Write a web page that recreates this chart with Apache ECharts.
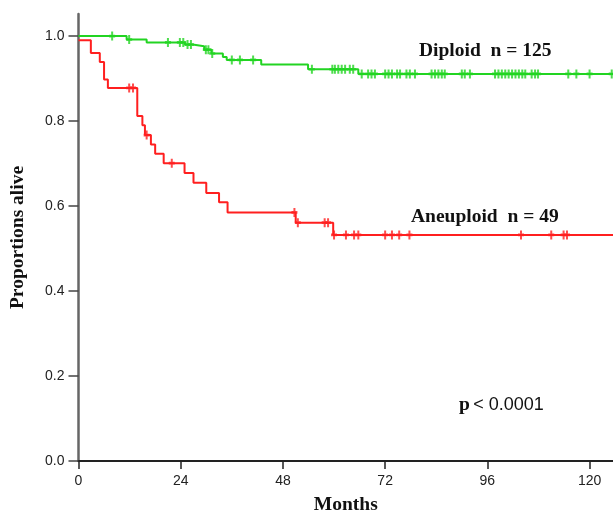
<!DOCTYPE html>
<html>
<head>
<meta charset="utf-8">
<script src="https://cdn.jsdelivr.net/npm/echarts@6/dist/echarts.min.js"></script>
<style>html,body{margin:0;padding:0;background:#fff}#c{width:613px;height:512px}</style>
</head>
<body>
<div id="c"></div>
<script>
// ---- data ----
var xTicks = [0, 24, 48, 72, 96, 120];
var yTicks = [0, 0.2, 0.4, 0.6, 0.8, 1.0];
var followUpEnd = 125.5;

var diploidName = 'Diploid  n = 125';
var diploidTimes = [0, 11.3, 16.0, 25.0, 26.8, 29.5, 31.2, 33.9, 34.8, 42.9, 53.9, 65.7];
var diploidSurv  = [1.0, 0.992, 0.985, 0.980, 0.976, 0.968, 0.959, 0.951, 0.944, 0.933, 0.922, 0.911];
var diploidCensor = [7.9, 11.9, 21.0, 23.8, 24.6, 25.6, 26.4, 29.9, 30.5, 31.4, 36.0, 37.9, 41.0,
  54.8, 59.6, 60.2, 61.0, 61.8, 62.6, 63.7, 64.5,
  66.5, 68.0, 68.8, 69.6, 72.0, 72.8, 73.6, 74.8, 75.5, 77.0, 77.8, 79.0,
  82.9, 83.7, 84.5, 85.3, 86.0, 90.0, 90.7, 91.9,
  97.8, 98.6, 99.4, 100.2, 101.0, 101.8, 102.6, 103.4, 104.2, 104.9, 106.4, 107.2, 107.9,
  115.0, 116.9, 120.0, 125.2];

var aneuName = 'Aneuploid  n = 49';
var aneuTimes = [0, 2.9, 5.0, 6.0, 6.9, 13.8, 15.0, 15.6, 17.0, 18.0, 20.0, 24.9, 27.0, 30.0, 33.0, 35.0, 51.0, 59.8];
var aneuSurv  = [0.99, 0.960, 0.939, 0.898, 0.878, 0.812, 0.790, 0.767, 0.745, 0.723, 0.701, 0.678, 0.655, 0.631, 0.609, 0.585, 0.561, 0.532];
var aneuCensor = [11.9, 12.8, 16.0, 21.9, 50.7, 51.5, 57.8, 58.6, 60.0, 62.8, 64.7, 65.7,
  72.0, 73.6, 75.3, 77.7, 103.9, 111.0, 113.9, 114.7];

var pText = '< 0.0001';

// ---- helpers ----
function stepData(times, surv) {
  var d = times.map(function (t, i) { return [t, surv[i]]; });
  d.push([followUpEnd, surv[surv.length - 1]]);
  return d;
}
function survAt(times, surv, t) {
  var v = surv[0];
  for (var i = 0; i < times.length; i++) { if (times[i] <= t) v = surv[i]; }
  return v;
}
function censorData(cens, times, surv) {
  return cens.map(function (t) { return [t, survAt(times, surv, t)]; });
}

var green = '#22d422';
var red = '#ff1f1f';
var plus = 'path://M2,0h2v10h-2zM0,3.5h6v3h-6z';
var serif = '"Liberation Serif", "Times New Roman", serif';
var sans = '"Liberation Sans", Arial, sans-serif';

var chart = echarts.init(document.getElementById('c'), null, { renderer: 'canvas' });
chart.setOption({
  animation: false,
  backgroundColor: '#fff',
  grid: { left: 78.5, right: 0, top: 14, bottom: 51, containLabel: false, outerBoundsMode: 'none' },
  xAxis: {
    type: 'value', min: 0, max: followUpEnd,
    name: 'Months', nameLocation: 'middle', nameGap: 34,
    nameTextStyle: { fontFamily: serif, fontWeight: 'bold', fontSize: 19.5, color: '#111' },
    axisLine: { show: true, onZero: false, lineStyle: { color: '#222', width: 2 } },
    axisTick: { show: true, length: 8, customValues: xTicks, lineStyle: { color: '#222', width: 1.5 } },
    axisLabel: { customValues: xTicks, fontFamily: sans, fontSize: 14, color: '#222', margin: 13 },
    splitLine: { show: false }
  },
  yAxis: {
    type: 'value', min: 0, max: 1.052,
    name: 'Proportions alive', nameLocation: 'middle', nameGap: 51,
    nameTextStyle: { fontFamily: serif, fontWeight: 'bold', fontSize: 19.5, color: '#111' },
    axisLine: { show: true, lineStyle: { color: '#666', width: 2.5 } },
    axisTick: { show: true, length: 10, customValues: yTicks, lineStyle: { color: '#444', width: 1.5 } },
    axisLabel: { customValues: yTicks, fontFamily: sans, fontSize: 14, color: '#222', margin: 14,
      formatter: function (v) { return v.toFixed(1); } },
    splitLine: { show: false }
  },
  series: [
    { name: diploidName, type: 'line', step: 'end', showSymbol: false, data: stepData(diploidTimes, diploidSurv),
      lineStyle: { color: green, width: 2 }, itemStyle: { color: green }, z: 3 },
    { name: diploidName + ' censored', type: 'scatter', symbol: plus, symbolSize: [6, 9],
      data: censorData(diploidCensor, diploidTimes, diploidSurv), itemStyle: { color: green }, z: 4 },
    { name: aneuName, type: 'line', step: 'end', showSymbol: false, data: stepData(aneuTimes, aneuSurv),
      lineStyle: { color: red, width: 2 }, itemStyle: { color: red }, z: 3 },
    { name: aneuName + ' censored', type: 'scatter', symbol: plus, symbolSize: [6, 9],
      data: censorData(aneuCensor, aneuTimes, aneuSurv), itemStyle: { color: red }, z: 4 }
  ],
  graphic: [
    { type: 'text', left: 419, top: 41, style: { text: diploidName, font: 'bold 19.5px ' + serif, fill: '#111' } },
    { type: 'text', left: 411, top: 207, style: { text: aneuName, font: 'bold 19.5px ' + serif, fill: '#111' } },
    { type: 'text', left: 459, top: 395, style: {
        text: '{a|p} {b|' + pText + '}',
        rich: {
          a: { fontFamily: serif, fontWeight: 'bold', fontSize: 19.5, fill: '#111' },
          b: { fontFamily: sans, fontSize: 18, fill: '#111' }
        } } }
  ]
});
</script>
</body>
</html>
